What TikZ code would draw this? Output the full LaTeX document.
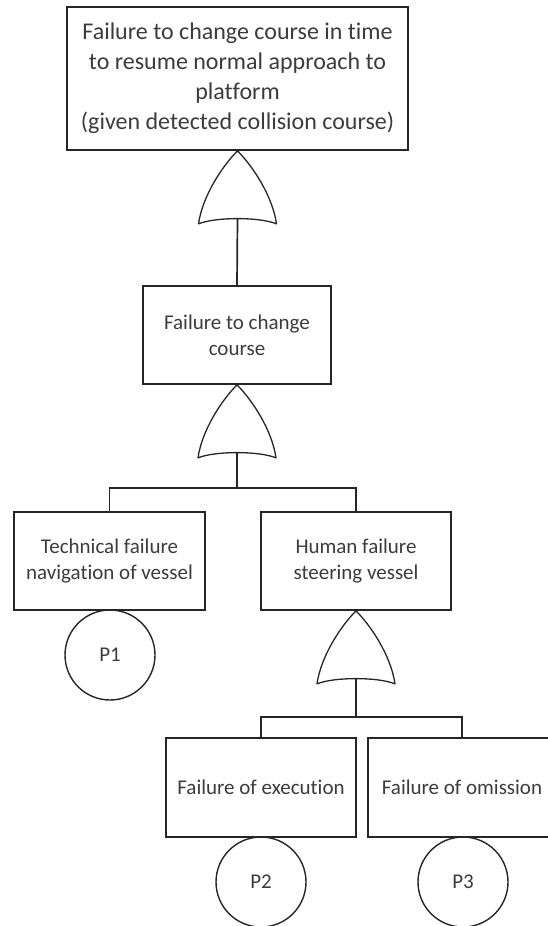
\documentclass[tikz,border=0pt]{standalone}
\usepackage{fontspec}
\setmainfont{Carlito}[Ligatures=NoCommon]
\definecolor{ink}{HTML}{262626}
\definecolor{txt}{HTML}{3C3C3C}
\begin{document}
\begin{tikzpicture}[x=1pt,y=-1pt,
  line width=1.7pt,
  event/.style={draw=ink, rectangle, align=center, inner sep=0pt,
    text=txt, font=\fontsize{21}{25.6}\selectfont},
  basic/.style={draw=ink, circle, minimum size=90pt, inner sep=0pt,
    line width=1.4pt, text=txt, font=\fontsize{21}{25.6}\selectfont},
  wire/.style={draw=ink},
  orgate/.pic={
    \draw[ink, line width=1.3pt, line join=round]
      (0,0) .. controls (-15,15) and (-35,45) .. (-39,73)
      .. controls (-22,66) and (22,66) .. (39,73)
      .. controls (35,45) and (15,15) .. cycle;
    \coordinate (-in) at (0,0);
    \coordinate (-out) at (0,68);
  }]
\useasboundingbox (0,0) rectangle (548,926);
\clip (0,0) rectangle (548,926);
\fill[white] (0,0) rectangle (548,926);

% top event
\node[event, minimum width=341pt, minimum height=143pt,
  font=\fontsize{24}{30}\selectfont] (top) at (237.5,78.5)
  {Failure to change course in time\\to resume normal approach to\\platform\\(given detected collision course)};
\pic (g1) at (top.south) {orgate};

% intermediate event
\node[event, minimum width=188pt, minimum height=98pt] (mid) at (237,335)
  {Failure to change\\course};
\draw[wire] (g1-out) -- (mid.north);
\pic (g2) at (mid.south) {orgate};

% second level
\node[event, minimum width=191pt, minimum height=98pt] (tech) at (109.5,561)
  {Technical failure\\navigation of vessel};
\node[event, minimum width=190pt, minimum height=98pt] (human) at (356,561)
  {Human failure\\steering vessel};
\coordinate (j2) at (237,488);
\draw[wire] (g2-out) -- (j2);
\draw[wire] (tech.north) |- (j2) -| (human.north);

\node[basic] (p1) at (110,655) {P1};
\pic (g3) at (human.south) {orgate};

% third level
\node[event, minimum width=190pt, minimum height=99pt] (exec) at (261,787.5)
  {Failure of execution};
\node[event, minimum width=188pt, minimum height=99pt] (omis) at (462,787.5)
  {Failure of omission};
\coordinate (j3) at (356,717);
\draw[wire] (g3-out) -- (j3);
\draw[wire] (exec.north) |- (j3) -| (omis.north);

\node[basic] (p2) at (261,882) {P2};
\node[basic] (p3) at (463,882) {P3};
\end{tikzpicture}
\end{document}
